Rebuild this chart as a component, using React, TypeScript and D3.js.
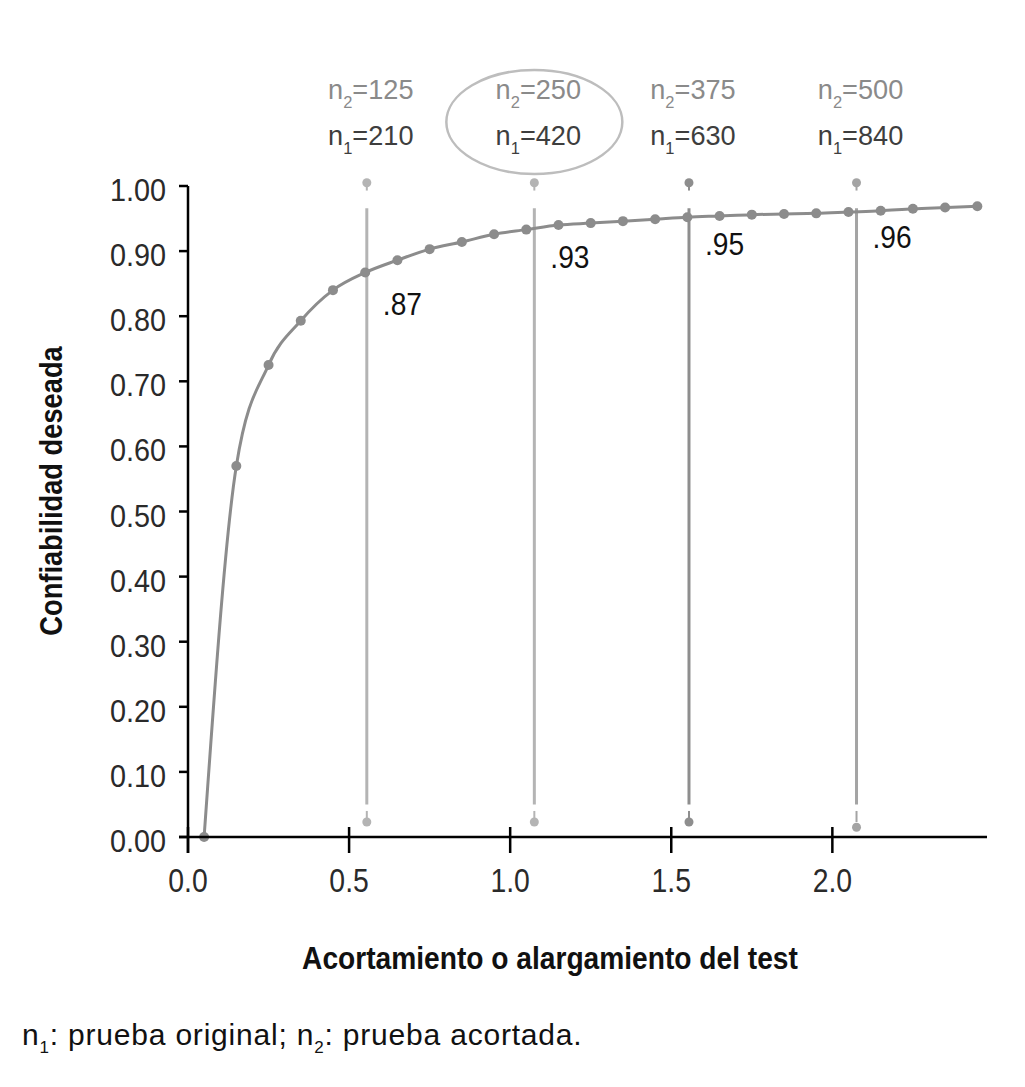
import React from "react";
import * as d3 from "d3";

// curve points: test length factor vs. desired reliability
const factors = [
  0.05, 0.15, 0.25, 0.35, 0.45, 0.55, 0.65, 0.75, 0.85, 0.95, 1.05, 1.15, 1.25,
  1.35, 1.45, 1.55, 1.65, 1.75, 1.85, 1.95, 2.05, 2.15, 2.25, 2.35, 2.45,
];
const reliability = [
  0.0, 0.57, 0.725, 0.793, 0.84, 0.867, 0.886, 0.903, 0.914, 0.926, 0.933,
  0.94, 0.943, 0.946, 0.949, 0.952, 0.954, 0.956, 0.957, 0.958, 0.96, 0.962,
  0.965, 0.967, 0.969,
];

// highlighted cases
const markerX = [0.555, 1.075, 1.555, 2.075];
const markerN2 = ["125", "250", "375", "500"];
const markerN1 = ["210", "420", "630", "840"];
const markerLabel = [".87", ".93", ".95", ".96"];
const markerLabelValue = [0.87, 0.93, 0.95, 0.96];
const markerColor = ["#b4b4b4", "#b4b4b4", "#8e8e8e", "#a4a4a4"];

const yTicks = [0, 0.1, 0.2, 0.3, 0.4, 0.5, 0.6, 0.7, 0.8, 0.9, 1.0];
const xTicks = [0, 0.5, 1.0, 1.5, 2.0];

const W = 1025;
const H = 1087;
const FONT = "'Liberation Sans', Arial, sans-serif";

// narrow text: the original uses a condensed face, so squeeze horizontally
const T = ({ x, y, sx = 0.88, rotate = 0, children, ...rest }: any) => (
  <text
    transform={`translate(${x},${y}) rotate(${rotate}) scale(${sx},1)`}
    fontFamily={FONT}
    {...rest}
  >
    {children}
  </text>
);

export default function App() {
  const x = d3.scaleLinear().domain([0, 2.48]).range([188, 987]);
  const y = d3.scaleLinear().domain([0, 1]).range([837, 186]);

  const pts = factors.map((f, i) => [f, reliability[i]] as [number, number]);
  const line = d3
    .line<[number, number]>()
    .x((d) => x(d[0]))
    .y((d) => y(d[1]))
    .curve(d3.curveMonotoneX);

  const curveColor = "#8c8c8c";

  return (
    <div style={{ position: "absolute", left: 0, top: 0 }}>
      <svg width={W} height={H} style={{ display: "block", background: "#fff" }}>
        {/* marker lines */}
        {markerX.map((mx, i) => {
          const cx = x(mx);
          const c = markerColor[i];
          return (
            <g key={"m" + i}>
              <line x1={cx} x2={cx} y1={y(0.966)} y2={y(0.05)} stroke={c} strokeWidth={3} />
              <circle cx={cx} cy={y(1.005)} r={4.5} fill={c} />
              <line x1={cx} x2={cx} y1={y(1.005)} y2={y(0.993)} stroke={c} strokeWidth={2} />
              <circle cx={cx} cy={y(i === 3 ? 0.015 : 0.023)} r={4.5} fill={c} />
              <line x1={cx} x2={cx} y1={y(0.04)} y2={y(0.023)} stroke={c} strokeWidth={2} />
            </g>
          );
        })}

        {/* curve */}
        <path d={line(pts) ?? ""} fill="none" stroke={curveColor} strokeWidth={3} />
        {pts.map((p, i) => (
          <circle key={"p" + i} cx={x(p[0])} cy={y(p[1])} r={5} fill={curveColor} />
        ))}

        {/* value labels */}
        {markerX.map((mx, i) => (
          <T
            key={"v" + i}
            x={x(mx) + 16}
            y={y(markerLabelValue[i]) + (i === 0 ? 44 : 36)}
            fontSize={32}
            fill="#111"
          >
            {markerLabel[i]}
          </T>
        ))}

        {/* n labels */}
        {markerX.map((mx, i) => (
          <g key={"n" + i} fontSize={28} textAnchor="middle">
            <T x={x(mx) + 4} y={99} sx={0.97} fill="#8a8a8a">
              n<tspan fontSize={17} dy={9}>2</tspan>
              <tspan dy={-9}>={markerN2[i]}</tspan>
            </T>
            <T x={x(mx) + 4} y={145} sx={0.97} fill="#3e3e3e">
              n<tspan fontSize={17} dy={9}>1</tspan>
              <tspan dy={-9}>={markerN1[i]}</tspan>
            </T>
          </g>
        ))}
        <ellipse
          cx={x(markerX[1])}
          cy={122}
          rx={88}
          ry={52}
          fill="none"
          stroke="#bdbdbd"
          strokeWidth={2.5}
        />

        {/* axes */}
        <line x1={188} x2={188} y1={y(1)} y2={853} stroke="#000" strokeWidth={2.5} />
        <line x1={179} x2={987} y1={y(0)} y2={y(0)} stroke="#000" strokeWidth={2.5} />
        {yTicks.map((t) => (
          <g key={"yt" + t}>
            <line x1={179} x2={188} y1={y(t)} y2={y(t)} stroke="#000" strokeWidth={2.5} />
            <T x={166} y={y(t) + 15} sx={0.93} textAnchor="end" fontSize={31} fill="#2a2a2a">
              {t.toFixed(2)}
            </T>
          </g>
        ))}
        {xTicks.map((t) => (
          <g key={"xt" + t}>
            <line x1={x(t)} x2={x(t)} y1={y(0) - 10} y2={853} stroke="#000" strokeWidth={2.5} />
            <T x={x(t)} y={892} sx={0.86} textAnchor="middle" fontSize={33} fill="#2a2a2a">
              {t.toFixed(1)}
            </T>
          </g>
        ))}

        {/* titles */}
        <T
          x={550}
          y={969}
          textAnchor="middle"
          fontWeight="bold"
          fontSize={32}
          fill="#111"
        >
          Acortamiento o alargamiento del test
        </T>
        <T
          x={62}
          y={491}
          rotate={-90}
          textAnchor="middle"
          fontWeight="bold"
          fontSize={31}
          fill="#111"
        >
          Confiabilidad deseada
        </T>

        {/* footnote */}
        <T x={22} y={1045} sx={1} fontSize={30} fill="#111" letterSpacing={0.8}>
          n<tspan fontSize={17} dy={8}>1</tspan>
          <tspan dy={-8}>: prueba original; n</tspan>
          <tspan fontSize={17} dy={8}>2</tspan>
          <tspan dy={-8}>: prueba acortada.</tspan>
        </T>
      </svg>
    </div>
  );
}
